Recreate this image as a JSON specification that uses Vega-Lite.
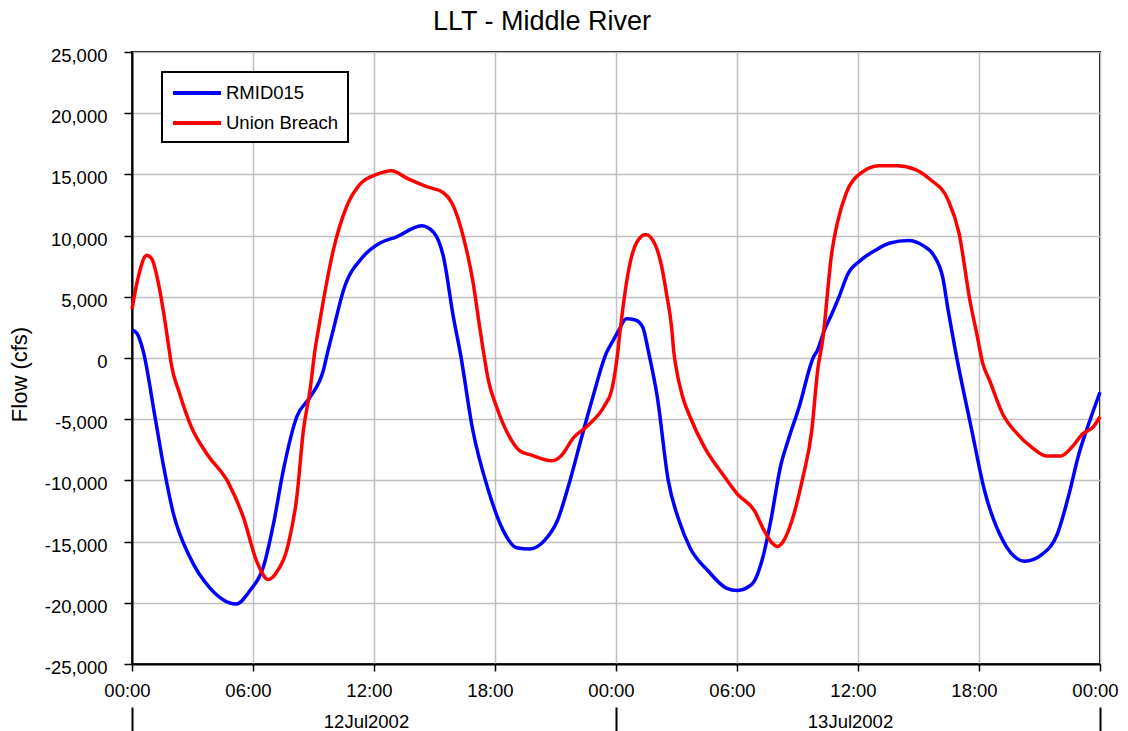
{
  "$schema": "https://vega.github.io/schema/vega-lite/v6.json",
  "autosize": {"type": "none"},
  "width": 968,
  "height": 612,
  "padding": {"left": 132, "top": 52, "right": 28, "bottom": 67},
  "background": "white",
  "title": {"text": "LLT - Middle River", "fontSize": 27, "font": "Liberation Sans", "fontWeight": "normal", "color": "black", "anchor": "middle", "dx": -74, "offset": 11},
  "config": {
    "view": {"stroke": "black", "strokeWidth": 2},
    "font": "Liberation Sans",
    "axis": {"labelFont": "Liberation Sans", "titleFont": "Liberation Sans", "labelColor": "black", "titleColor": "black"},
    "legend": {"strokeWidth": 2}
  },
  "data": {"values": [
    {"hour": 0.00, "series": "RMID015", "flow": 2300},
    {"hour": 0.25, "series": "RMID015", "flow": 2000},
    {"hour": 0.55, "series": "RMID015", "flow": 600},
    {"hour": 1.14, "series": "RMID015", "flow": -4800},
    {"hour": 1.55, "series": "RMID015", "flow": -8700},
    {"hour": 2.05, "series": "RMID015", "flow": -12700},
    {"hour": 2.88, "series": "RMID015", "flow": -16300},
    {"hour": 3.87, "series": "RMID015", "flow": -18800},
    {"hour": 5.16, "series": "RMID015", "flow": -20100},
    {"hour": 5.85, "series": "RMID015", "flow": -19000},
    {"hour": 6.51, "series": "RMID015", "flow": -17100},
    {"hour": 7.01, "series": "RMID015", "flow": -13600},
    {"hour": 7.50, "series": "RMID015", "flow": -9200},
    {"hour": 8.17, "series": "RMID015", "flow": -4800},
    {"hour": 8.83, "series": "RMID015", "flow": -3200},
    {"hour": 9.49, "series": "RMID015", "flow": -1000},
    {"hour": 9.72, "series": "RMID015", "flow": 600},
    {"hour": 9.98, "series": "RMID015", "flow": 2300},
    {"hour": 10.48, "series": "RMID015", "flow": 5500},
    {"hour": 11.47, "series": "RMID015", "flow": 8300},
    {"hour": 12.30, "series": "RMID015", "flow": 9400},
    {"hour": 13.12, "series": "RMID015", "flow": 9900},
    {"hour": 14.36, "series": "RMID015", "flow": 10800},
    {"hour": 14.94, "series": "RMID015", "flow": 10300},
    {"hour": 15.44, "series": "RMID015", "flow": 8300},
    {"hour": 15.93, "series": "RMID015", "flow": 3400},
    {"hour": 16.27, "series": "RMID015", "flow": 500},
    {"hour": 16.90, "series": "RMID015", "flow": -5900},
    {"hour": 17.67, "series": "RMID015", "flow": -10800},
    {"hour": 18.41, "series": "RMID015", "flow": -14100},
    {"hour": 19.07, "series": "RMID015", "flow": -15500},
    {"hour": 19.74, "series": "RMID015", "flow": -15600},
    {"hour": 20.46, "series": "RMID015", "flow": -14900},
    {"hour": 21.09, "series": "RMID015", "flow": -13300},
    {"hour": 21.72, "series": "RMID015", "flow": -10000},
    {"hour": 22.26, "series": "RMID015", "flow": -6700},
    {"hour": 22.80, "series": "RMID015", "flow": -3500},
    {"hour": 23.52, "series": "RMID015", "flow": 400},
    {"hour": 23.88, "series": "RMID015", "flow": 1500},
    {"hour": 24.15, "series": "RMID015", "flow": 2300},
    {"hour": 24.51, "series": "RMID015", "flow": 3200},
    {"hour": 24.96, "series": "RMID015", "flow": 3100},
    {"hour": 25.33, "series": "RMID015", "flow": 2500},
    {"hour": 25.50, "series": "RMID015", "flow": 1400},
    {"hour": 25.60, "series": "RMID015", "flow": 600},
    {"hour": 26.05, "series": "RMID015", "flow": -3200},
    {"hour": 26.59, "series": "RMID015", "flow": -10000},
    {"hour": 27.13, "series": "RMID015", "flow": -13300},
    {"hour": 27.67, "series": "RMID015", "flow": -15500},
    {"hour": 28.57, "series": "RMID015", "flow": -17400},
    {"hour": 29.47, "series": "RMID015", "flow": -18800},
    {"hour": 30.01, "series": "RMID015", "flow": -19000},
    {"hour": 30.73, "series": "RMID015", "flow": -18500},
    {"hour": 31.28, "series": "RMID015", "flow": -16300},
    {"hour": 31.64, "series": "RMID015", "flow": -13600},
    {"hour": 32.18, "series": "RMID015", "flow": -8700},
    {"hour": 32.54, "series": "RMID015", "flow": -6700},
    {"hour": 33.08, "series": "RMID015", "flow": -4000},
    {"hour": 33.80, "series": "RMID015", "flow": 100},
    {"hour": 33.98, "series": "RMID015", "flow": 600},
    {"hour": 34.34, "series": "RMID015", "flow": 2300},
    {"hour": 34.70, "series": "RMID015", "flow": 3600},
    {"hour": 35.06, "series": "RMID015", "flow": 5000},
    {"hour": 35.51, "series": "RMID015", "flow": 6900},
    {"hour": 36.14, "series": "RMID015", "flow": 8000},
    {"hour": 36.86, "series": "RMID015", "flow": 8800},
    {"hour": 37.59, "series": "RMID015", "flow": 9400},
    {"hour": 38.49, "series": "RMID015", "flow": 9600},
    {"hour": 39.21, "series": "RMID015", "flow": 9200},
    {"hour": 39.75, "series": "RMID015", "flow": 8400},
    {"hour": 40.20, "series": "RMID015", "flow": 6600},
    {"hour": 40.47, "series": "RMID015", "flow": 3900},
    {"hour": 40.83, "series": "RMID015", "flow": 600},
    {"hour": 41.64, "series": "RMID015", "flow": -5900},
    {"hour": 42.27, "series": "RMID015", "flow": -10800},
    {"hour": 43.18, "series": "RMID015", "flow": -14900},
    {"hour": 44.26, "series": "RMID015", "flow": -16600},
    {"hour": 45.16, "series": "RMID015", "flow": -16000},
    {"hour": 45.88, "series": "RMID015", "flow": -14400},
    {"hour": 46.42, "series": "RMID015", "flow": -11400},
    {"hour": 46.96, "series": "RMID015", "flow": -7800},
    {"hour": 47.50, "series": "RMID015", "flow": -5100},
    {"hour": 48.00, "series": "RMID015", "flow": -2800},
    {"hour": 0.00, "series": "Union Breach", "flow": 4000},
    {"hour": 0.31, "series": "Union Breach", "flow": 6600},
    {"hour": 0.73, "series": "Union Breach", "flow": 8400},
    {"hour": 0.98, "series": "Union Breach", "flow": 8100},
    {"hour": 1.31, "series": "Union Breach", "flow": 6100},
    {"hour": 1.55, "series": "Union Breach", "flow": 3900},
    {"hour": 1.85, "series": "Union Breach", "flow": 600},
    {"hour": 1.97, "series": "Union Breach", "flow": -700},
    {"hour": 2.30, "series": "Union Breach", "flow": -2600},
    {"hour": 2.96, "series": "Union Breach", "flow": -5700},
    {"hour": 3.70, "series": "Union Breach", "flow": -7800},
    {"hour": 4.78, "series": "Union Breach", "flow": -10200},
    {"hour": 5.52, "series": "Union Breach", "flow": -13000},
    {"hour": 6.18, "series": "Union Breach", "flow": -16600},
    {"hour": 6.76, "series": "Union Breach", "flow": -18100},
    {"hour": 7.17, "series": "Union Breach", "flow": -17500},
    {"hour": 7.75, "series": "Union Breach", "flow": -15200},
    {"hour": 8.17, "series": "Union Breach", "flow": -11400},
    {"hour": 8.50, "series": "Union Breach", "flow": -5900},
    {"hour": 8.83, "series": "Union Breach", "flow": -2600},
    {"hour": 9.07, "series": "Union Breach", "flow": 600},
    {"hour": 9.24, "series": "Union Breach", "flow": 2300},
    {"hour": 9.49, "series": "Union Breach", "flow": 4700},
    {"hour": 9.98, "series": "Union Breach", "flow": 8800},
    {"hour": 10.65, "series": "Union Breach", "flow": 12400},
    {"hour": 11.31, "series": "Union Breach", "flow": 14200},
    {"hour": 12.13, "series": "Union Breach", "flow": 15000},
    {"hour": 12.88, "series": "Union Breach", "flow": 15300},
    {"hour": 13.62, "series": "Union Breach", "flow": 14700},
    {"hour": 14.61, "series": "Union Breach", "flow": 14000},
    {"hour": 15.44, "series": "Union Breach", "flow": 13500},
    {"hour": 15.85, "series": "Union Breach", "flow": 12700},
    {"hour": 16.43, "series": "Union Breach", "flow": 9900},
    {"hour": 16.92, "series": "Union Breach", "flow": 6100},
    {"hour": 17.26, "series": "Union Breach", "flow": 2300},
    {"hour": 17.42, "series": "Union Breach", "flow": 600},
    {"hour": 17.67, "series": "Union Breach", "flow": -1800},
    {"hour": 18.08, "series": "Union Breach", "flow": -4000},
    {"hour": 18.74, "series": "Union Breach", "flow": -6500},
    {"hour": 19.24, "series": "Union Breach", "flow": -7600},
    {"hour": 19.74, "series": "Union Breach", "flow": -7900},
    {"hour": 20.82, "series": "Union Breach", "flow": -8400},
    {"hour": 21.27, "series": "Union Breach", "flow": -8000},
    {"hour": 21.90, "series": "Union Breach", "flow": -6500},
    {"hour": 22.62, "series": "Union Breach", "flow": -5500},
    {"hour": 23.43, "series": "Union Breach", "flow": -3900},
    {"hour": 23.79, "series": "Union Breach", "flow": -2600},
    {"hour": 24.06, "series": "Union Breach", "flow": 100},
    {"hour": 24.21, "series": "Union Breach", "flow": 2300},
    {"hour": 24.46, "series": "Union Breach", "flow": 5500},
    {"hour": 24.69, "series": "Union Breach", "flow": 7700},
    {"hour": 25.05, "series": "Union Breach", "flow": 9500},
    {"hour": 25.47, "series": "Union Breach", "flow": 10100},
    {"hour": 25.96, "series": "Union Breach", "flow": 9200},
    {"hour": 26.26, "series": "Union Breach", "flow": 7500},
    {"hour": 26.50, "series": "Union Breach", "flow": 5300},
    {"hour": 26.77, "series": "Union Breach", "flow": 2300},
    {"hour": 26.86, "series": "Union Breach", "flow": 600},
    {"hour": 26.95, "series": "Union Breach", "flow": -500},
    {"hour": 27.31, "series": "Union Breach", "flow": -3200},
    {"hour": 27.67, "series": "Union Breach", "flow": -4800},
    {"hour": 28.39, "series": "Union Breach", "flow": -7300},
    {"hour": 29.29, "series": "Union Breach", "flow": -9500},
    {"hour": 30.01, "series": "Union Breach", "flow": -11100},
    {"hour": 30.91, "series": "Union Breach", "flow": -12600},
    {"hour": 31.28, "series": "Union Breach", "flow": -13900},
    {"hour": 31.73, "series": "Union Breach", "flow": -15100},
    {"hour": 32.00, "series": "Union Breach", "flow": -15400},
    {"hour": 32.36, "series": "Union Breach", "flow": -14800},
    {"hour": 32.72, "series": "Union Breach", "flow": -13300},
    {"hour": 33.26, "series": "Union Breach", "flow": -9800},
    {"hour": 33.71, "series": "Union Breach", "flow": -5900},
    {"hour": 34.00, "series": "Union Breach", "flow": -1000},
    {"hour": 34.25, "series": "Union Breach", "flow": 1500},
    {"hour": 34.70, "series": "Union Breach", "flow": 8600},
    {"hour": 34.97, "series": "Union Breach", "flow": 11000},
    {"hour": 35.42, "series": "Union Breach", "flow": 13500},
    {"hour": 36.14, "series": "Union Breach", "flow": 15100},
    {"hour": 37.05, "series": "Union Breach", "flow": 15700},
    {"hour": 37.95, "series": "Union Breach", "flow": 15700},
    {"hour": 38.85, "series": "Union Breach", "flow": 15400},
    {"hour": 39.57, "series": "Union Breach", "flow": 14600},
    {"hour": 40.47, "series": "Union Breach", "flow": 12900},
    {"hour": 41.01, "series": "Union Breach", "flow": 10200},
    {"hour": 41.55, "series": "Union Breach", "flow": 4700},
    {"hour": 41.91, "series": "Union Breach", "flow": 1800},
    {"hour": 42.18, "series": "Union Breach", "flow": -400},
    {"hour": 42.54, "series": "Union Breach", "flow": -1900},
    {"hour": 43.18, "series": "Union Breach", "flow": -4600},
    {"hour": 43.90, "series": "Union Breach", "flow": -6200},
    {"hour": 44.62, "series": "Union Breach", "flow": -7300},
    {"hour": 45.34, "series": "Union Breach", "flow": -8000},
    {"hour": 46.06, "series": "Union Breach", "flow": -8000},
    {"hour": 46.60, "series": "Union Breach", "flow": -7300},
    {"hour": 47.14, "series": "Union Breach", "flow": -6200},
    {"hour": 47.68, "series": "Union Breach", "flow": -5600},
    {"hour": 48.00, "series": "Union Breach", "flow": -4800}
  ]},
  "layer": [
    {
      "transform": [{"filter": "datum.series === 'RMID015'"}],
      "mark": {"type": "line", "strokeWidth": 3.5, "interpolate": "monotone"},
      "encoding": {
        "x": {"field": "hour", "type": "quantitative",
          "scale": {"domain": [0, 48], "nice": false, "zero": false},
          "axis": {"title": null, "orient": "bottom", "values": [0, 6, 12, 18, 24, 30, 36, 42, 48],
            "labelExpr": "(datum.value % 24 < 10 ? '0' : '') + (datum.value % 24) + ':00'",
            "labelFontSize": 18.5, "labelOffset": -5, "tickSize": 7, "tickWidth": 1.5, "tickColor": "black", "domainColor": "black", "domainWidth": 2,
            "grid": true, "gridColor": "#c0c0c0", "gridWidth": 1.5, "labelPadding": 10, "labelFlush": false, "labelOverlap": false}},
        "y": {"field": "flow", "type": "quantitative",
          "scale": {"domain": [-25000, 25000], "nice": false},
          "axis": {"title": "Flow (cfs)", "values": [-25000, -20000, -15000, -10000, -5000, 0, 5000, 10000, 15000, 20000, 25000],
            "labelExpr": "replace(format(datum.value, ',.0f'), '\u2212', '-')",
            "labelFontSize": 18.5, "labelOffset": 3.5, "titleFontSize": 22, "titleFontWeight": "normal", "titlePadding": 13, "titleY": 322,
            "tickSize": 8, "tickWidth": 1.5, "tickColor": "black",
            "domainColor": "black", "domainWidth": 2, "grid": true, "gridColor": "#c0c0c0", "gridWidth": 1.5, "labelPadding": 17}},
        "color": {"field": "series", "type": "nominal",
          "scale": {"domain": ["RMID015", "Union Breach"], "range": ["#0000ff", "#ff0000"]},
          "legend": {"title": null, "orient": "none", "legendX": 30, "legendY": 20, "fillColor": "white", "strokeColor": "black",
            "padding": 9, "rowPadding": 8, "symbolType": "M-1,0H3.8", "symbolSize": 400, "symbolStrokeWidth": 4, "labelFontSize": 18.5, "labelColor": "black", "labelOffset": 31, "labelFont": "Liberation Sans"}}
      }
    },
    {
      "transform": [{"filter": "datum.series === 'Union Breach'"}],
      "mark": {"type": "line", "strokeWidth": 3.5, "interpolate": "monotone"},
      "encoding": {
        "x": {"field": "hour", "type": "quantitative",
          "scale": {"domain": [0, 48], "nice": false, "zero": false},
          "axis": {"title": null, "orient": "bottom", "offset": 43, "domain": false, "grid": false, "values": [0, 24, 48],
            "tickSize": 25, "tickWidth": 2, "tickColor": "black",
            "labelExpr": "datum.value == 0 ? '12Jul2002' : datum.value == 24 ? '13Jul2002' : ''",
            "labelFontSize": 18.5, "labelOffset": 234, "labelPadding": -20, "labelFlush": false, "labelOverlap": false, "labelBound": false}},
        "y": {"field": "flow", "type": "quantitative", "scale": {"domain": [-25000, 25000], "nice": false}, "title": "Flow (cfs)"},
        "color": {"field": "series", "type": "nominal", "scale": {"domain": ["RMID015", "Union Breach"], "range": ["#0000ff", "#ff0000"]}}
      }
    }
  ],
  "resolve": {"axis": {"x": "independent"}}
}
